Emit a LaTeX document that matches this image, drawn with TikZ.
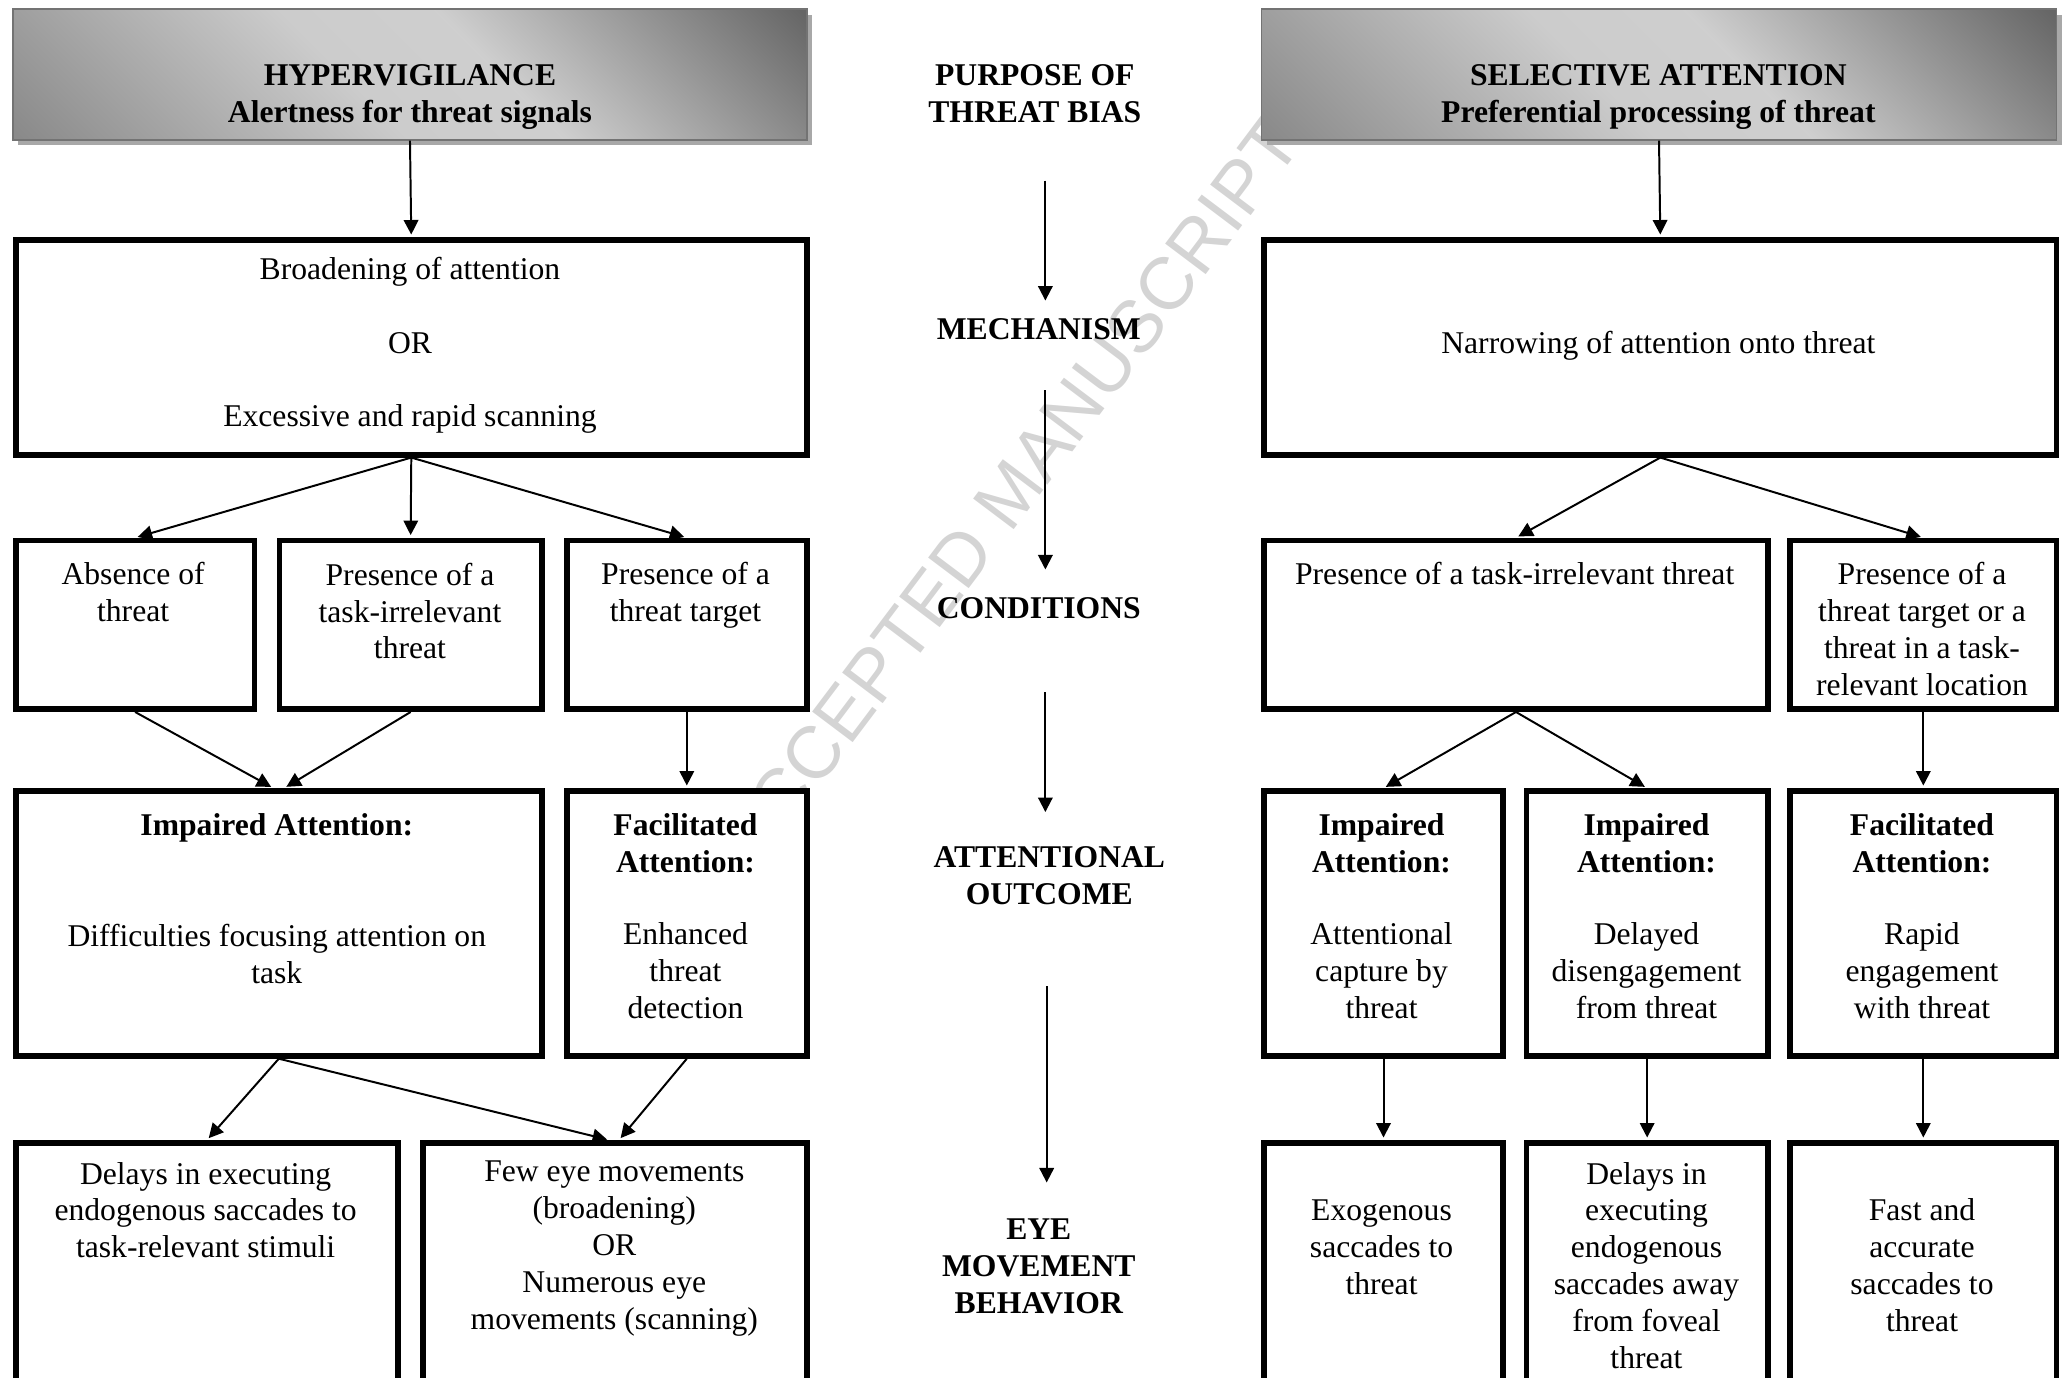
\documentclass[tikz,border=0pt]{standalone}
\usepackage{fontspec}
\setmainfont{Liberation Serif}
\newfontfamily\wmfont{Liberation Sans}
\usetikzlibrary{arrows.meta,fit,shadows}
\pgfdeclareverticalshading{hdrsh}{100bp}{color(0bp)=(black!46); color(15bp)=(black!46); color(45bp)=(black!20); color(57bp)=(black!19); color(85bp)=(black!60); color(100bp)=(black!60)}
\begin{document}
\begin{tikzpicture}[x=1pt,y=-1pt,
  bx/.style={draw, line width=4.2pt, fill=white, inner sep=0pt, rectangle},
  hdr/.style={draw=black!55, line width=1.3pt, inner sep=0pt, rectangle, shading=hdrsh, shading angle=-45,
    drop shadow={shadow xshift=4pt, shadow yshift=-4pt, fill=black!34, opacity=1}},
  txt/.style={font=\fontsize{24}{28}\selectfont, align=center, inner sep=0pt},
  lbl/.style={font=\fontsize{24}{28}\selectfont\bfseries, align=center, inner sep=0pt},
  arr/.style={-{Triangle[length=11pt,width=11pt]}, line width=1.5pt, shorten >=2pt},
  carr/.style={-{Triangle[length=11pt,width=11pt]}, line width=1.5pt},
  wm/.style={font=\wmfont\fontsize{56}{60}\selectfont, text=black!17, rotate=53, inner sep=0pt}
]
\useasboundingbox (0,0) rectangle (1568,1045);
\clip (0,0) rectangle (1568,1045);

% watermark
\node[wm] (wmark) at (766,374) {ACCEPTED MANUSCRIPT};

% headers
\node[hdr, fit={(10,7) (612,106)}] (hdrL) {};
\node[hdr, fit={(957,7) (1560,106)}] (hdrR) {};

% boxes
\node[bx, fit={(12,182) (612,345)}] (mechL) {};
\node[bx, fit={(959,182) (1560,345)}] (mechR) {};
\node[bx, fit={(12,410) (193,538)}] (condA) {};
\node[bx, fit={(212,410) (411,538)}] (condB) {};
\node[bx, fit={(430,410) (612,538)}] (condC) {};
\node[bx, fit={(959,410) (1341,538)}] (condH) {};
\node[bx, fit={(1358,410) (1560,538)}] (condI) {};
\node[bx, fit={(12,600) (411,801)}] (outD) {};
\node[bx, fit={(430,600) (612,801)}] (outE) {};
\node[bx, fit={(959,600) (1140,801)}] (outJ) {};
\node[bx, fit={(1158,600) (1341,801)}] (outK) {};
\node[bx, fit={(1358,600) (1560,801)}] (outL) {};
\node[bx, fit={(12,867) (302,1100)}] (eyeF) {};
\node[bx, fit={(321,867) (612,1100)}] (eyeG) {};
\node[bx, fit={(959,867) (1140,1100)}] (eyeM) {};
\node[bx, fit={(1158,867) (1341,1100)}] (eyeN) {};
\node[bx, fit={(1358,867) (1560,1100)}] (eyeO) {};

% header texts
\node[lbl] (thdrL) at (311,73.5) {HYPERVIGILANCE\\Alertness for threat signals};
\node[lbl] (thdrR) at (1258,73.5) {SELECTIVE ATTENTION\\Preferential processing of threat};

% centre labels
\node[lbl] (lblPurpose) at (785,71) {PURPOSE OF\\THREAT BIAS};
\node[lbl] (lblMech) at (788,250) {MECHANISM};
\node[lbl] (lblCond) at (788,461) {CONDITIONS};
\node[lbl] (lblOut) at (796,664.5) {ATTENTIONAL\\OUTCOME};
\node[lbl] (lblEye) at (788,960.5) {EYE\\MOVEMENT\\BEHAVIOR};

% box texts
\node[txt] (tmechL) at (311,262) {Broadening of attention\\[28pt]OR\\[28pt]Excessive and rapid scanning};
\node[txt] (tmechR) at (1258,262) {Narrowing of attention onto threat};
\node[txt] (tcondA) at (101,449) {Absence of\\threat};
\node[txt] (tcondB) at (311,463.5) {Presence of a\\task-irrelevant\\threat};
\node[txt] (tcondC) at (520,451.5) {Presence of a\\threat target};
\node[txt] (tcondH) at (1149,435) {Presence of a task-irrelevant threat};
\node[txt] (tcondI) at (1458,477) {Presence of a\\threat target or a\\threat in a task-\\relevant location};
\node[txt] (toutD) at (210,681.5) {\textbf{Impaired Attention:}\\[56pt]Difficulties focusing attention on\\task};
\node[txt] (toutE) at (520,695) {\textbf{Facilitated}\\\textbf{Attention:}\\[27pt]Enhanced\\threat\\detection};
\node[txt] (toutJ) at (1048,695) {\textbf{Impaired}\\\textbf{Attention:}\\[27pt]Attentional\\capture by\\threat};
\node[txt] (toutK) at (1249,695) {\textbf{Impaired}\\\textbf{Attention:}\\[27pt]Delayed\\disengagement\\from threat};
\node[txt] (toutL) at (1458,695) {\textbf{Facilitated}\\\textbf{Attention:}\\[27pt]Rapid\\engagement\\with threat};
\node[txt] (teyeF) at (156,918) {Delays in executing\\endogenous saccades to\\task-relevant stimuli};
\node[txt] (teyeG) at (466,947) {Few eye movements\\(broadening)\\OR\\Numerous eye\\movements (scanning)};
\node[txt] (teyeM) at (1048,946) {Exogenous\\saccades to\\threat};
\node[txt] (teyeN) at (1249,960) {Delays in\\executing\\endogenous\\saccades away\\from foveal\\threat};
\node[txt] (teyeO) at (1458,960) {Fast and\\accurate\\saccades to\\threat};

% arrows left
\draw[arr] (hdrL.south) -- (mechL.north);
\draw[arr] (mechL.south) -- (condA.north);
\draw[arr] (mechL.south) -- (condB.north);
\draw[arr] (mechL.south) -- (condC.north);
\draw[arr] (condA.south) -- ([xshift=-4pt]outD.north);
\draw[arr] (condB.south) -- ([xshift=4pt]outD.north);
\draw[arr] (condC.south) -- (outE.north);
\draw[arr] (outD.south) -- (eyeF.north);
\draw[arr] (outD.south) -- ([xshift=-4pt]eyeG.north);
\draw[arr] (outE.south) -- ([xshift=3pt]eyeG.north);

% arrows right
\draw[arr] (hdrR.south) -- (mechR.north);
\draw[arr] (mechR.south) -- (condH.north);
\draw[arr] (mechR.south) -- (condI.north);
\draw[arr] (condH.south) -- (outJ.north);
\draw[arr] (condH.south) -- (outK.north);
\draw[arr] (condI.south) -- (outL.north);
\draw[arr] (outJ.south) -- (eyeM.north);
\draw[arr] (outK.south) -- (eyeN.north);
\draw[arr] (outL.south) -- (eyeO.north);

% centre arrows
\coordinate (a1s) at (793,137); \coordinate (a1e) at (793,228);
\coordinate (a2s) at (793,296); \coordinate (a2e) at (793,432);
\coordinate (a3s) at (793,525); \coordinate (a3e) at (793,616);
\coordinate (a4s) at (794,748); \coordinate (a4e) at (794,897);
\draw[carr] (a1s) -- (a1e);
\draw[carr] (a2s) -- (a2e);
\draw[carr] (a3s) -- (a3e);
\draw[carr] (a4s) -- (a4e);
\end{tikzpicture}
\end{document}
